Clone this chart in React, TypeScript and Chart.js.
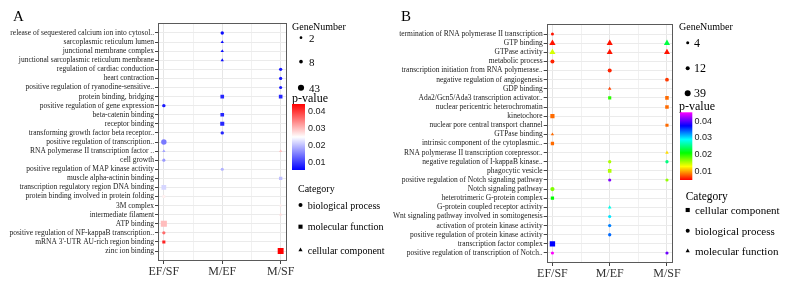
import React, { useEffect, useRef } from "react";
import { Chart, registerables } from "chart.js";

Chart.register(...registerables);

type Cat = "BP" | "MF" | "CC";
// [term row, comparison column, gene number, p-value, GO category]
type Pt = [number, number, number, number, Cat];

const comparisons = ["EF/SF", "M/EF", "M/SF"];

// ---- Panel A ----
const termsA = [
  "release of sequestered calcium ion into cytosol..",
  "sarcoplasmic reticulum lumen",
  "junctional membrane complex",
  "junctional sarcoplasmic reticulum membrane",
  "regulation of cardiac conduction",
  "heart contraction",
  "positive regulation of ryanodine-sensitive..",
  "protein binding, bridging",
  "positive regulation of gene expression",
  "beta-catenin binding",
  "receptor binding",
  "transforming growth factor beta receptor..",
  "positive regulation of transcription..",
  "RNA polymerase II transcription factor ..",
  "cell growth",
  "positive regulation of MAP kinase activity",
  "muscle alpha-actinin binding",
  "transcription regulatory region DNA binding",
  "protein binding involved in protein folding",
  "3M complex",
  "intermediate filament",
  "ATP binding",
  "positive regulation of NF-kappaB transcription..",
  "mRNA 3'-UTR AU-rich region binding",
  "zinc ion binding",
];

const pointsA: Pt[] = [
  [0, 1, 6, 0.006, "BP"],
  [1, 1, 4, 0.006, "CC"],
  [2, 1, 4, 0.006, "CC"],
  [3, 1, 4, 0.006, "CC"],
  [4, 2, 5, 0.007, "BP"],
  [5, 2, 5, 0.007, "BP"],
  [6, 2, 4, 0.007, "BP"],
  [7, 1, 8, 0.008, "MF"],
  [7, 2, 8, 0.008, "MF"],
  [8, 0, 6, 0.007, "BP"],
  [9, 1, 8, 0.008, "MF"],
  [10, 1, 12, 0.008, "MF"],
  [11, 1, 6, 0.008, "BP"],
  [12, 0, 30, 0.0144, "BP"],
  [13, 0, 4, 0.0177, "CC"],
  [13, 2, 4, 0.0294, "CC"],
  [14, 0, 4, 0.0168, "BP"],
  [15, 1, 4, 0.0187, "BP"],
  [16, 2, 6, 0.0197, "MF"],
  [17, 0, 20, 0.0214, "MF"],
  [18, 0, 3, 0.0257, "MF"],
  [19, 2, 3, 0.026, "CC"],
  [20, 2, 4, 0.0273, "CC"],
  [21, 0, 43, 0.0296, "MF"],
  [22, 0, 5, 0.0358, "BP"],
  [23, 0, 4, 0.0413, "MF"],
  [24, 2, 40, 0.044, "MF"],
];

const sizeKeysA = [2, 8, 43];
const pRangeA = [0.0051, 0.044];
const categoriesA: Cat[] = ["BP", "MF", "CC"];

// ---- Panel B ----
const termsB = [
  "termination of RNA polymerase II transcription",
  "GTP binding",
  "GTPase activity",
  "metabolic process",
  "transcription initiation from RNA polymerase..",
  "negative regulation of angiogenesis",
  "GDP binding",
  "Ada2/Gcn5/Ada3 transcription activator..",
  "nuclear pericentric heterochromatin",
  "kinetochore",
  "nuclear pore central transport channel",
  "GTPase binding",
  "intrinsic component of the cytoplasmic..",
  "RNA polymerase II transcription corepressor..",
  "negative regulation of I-kappaB kinase..",
  "phagocytic vesicle",
  "positive regulation of Notch signaling pathway",
  "Notch signaling pathway",
  "heterotrimeric G-protein complex",
  "G-protein coupled receptor activity",
  "Wnt signaling pathway involved in somitogenesis",
  "activation of protein kinase activity",
  "positive regulation of protein kinase activity",
  "transcription factor complex",
  "positive regulation of transcription of Notch..",
];

const pointsB: Pt[] = [
  [0, 0, 4, 0.005, "BP"],
  [1, 0, 39, 0.005, "MF"],
  [1, 1, 36, 0.005, "MF"],
  [1, 2, 36, 0.0227, "MF"],
  [2, 0, 36, 0.0139, "MF"],
  [2, 1, 34, 0.005, "MF"],
  [2, 2, 34, 0.005, "MF"],
  [3, 0, 12, 0.0055, "BP"],
  [4, 1, 12, 0.0055, "BP"],
  [5, 2, 10, 0.0062, "BP"],
  [6, 1, 6, 0.0065, "MF"],
  [7, 1, 5, 0.0193, "CC"],
  [7, 2, 8, 0.0078, "CC"],
  [8, 2, 8, 0.0078, "CC"],
  [9, 0, 14, 0.0078, "CC"],
  [10, 2, 5, 0.0078, "CC"],
  [11, 0, 5, 0.0078, "MF"],
  [12, 0, 6, 0.0078, "CC"],
  [13, 2, 6, 0.0114, "MF"],
  [14, 1, 6, 0.0152, "BP"],
  [14, 2, 6, 0.0247, "BP"],
  [15, 1, 8, 0.015, "CC"],
  [16, 1, 5, 0.041, "BP"],
  [16, 2, 5, 0.0159, "BP"],
  [17, 0, 14, 0.0166, "BP"],
  [18, 0, 6, 0.0206, "CC"],
  [19, 1, 7, 0.0281, "MF"],
  [20, 1, 5, 0.0296, "BP"],
  [21, 1, 6, 0.0328, "BP"],
  [22, 1, 6, 0.0335, "BP"],
  [23, 0, 30, 0.0369, "CC"],
  [24, 0, 5, 0.045, "BP"],
  [24, 2, 5, 0.0403, "BP"],
];

const sizeKeysB = [4, 12, 39];
const pRangeB = [0.0044, 0.045];
const categoriesB: Cat[] = ["CC", "BP", "MF"];

const pTicks = [0.04, 0.03, 0.02, 0.01];

const categoryNames: Record<Cat, string> = {
  BP: "biological process",
  MF: "molecular function",
  CC: "cellular component",
};

type Shape = "circle" | "rect" | "triangle";
const shapesA: Record<Cat, Shape> = { BP: "circle", MF: "rect", CC: "triangle" };
const shapesB: Record<Cat, Shape> = { CC: "rect", BP: "circle", MF: "triangle" };

const SERIF = "'Liberation Serif', 'Times New Roman', serif";
const SANS = "'Liberation Sans', Arial, sans-serif";

const clamp01 = (v: number) => Math.max(0, Math.min(1, v));

// blue -> white -> red
function colorA(p: number) {
  const t = clamp01((p - pRangeA[0]) / (pRangeA[1] - pRangeA[0]));
  if (t < 0.5) {
    const s = t / 0.5;
    const c = Math.round(255 * s);
    return `rgb(${c},${c},255)`;
  }
  const s = (t - 0.5) / 0.5;
  const c = Math.round(255 * (1 - s));
  return `rgb(255,${c},${c})`;
}

// rainbow: red (low) -> magenta (high)
function colorB(p: number) {
  const t = clamp01((p - pRangeB[0]) / (pRangeB[1] - pRangeB[0]));
  return `hsl(${(t * 300).toFixed(1)},100%,50%)`;
}

const radiusA = (n: number) => 0.9 + 0.33 * Math.sqrt(n);
const radiusB = (n: number) => 0.8 + 0.35 * Math.sqrt(n);
const shapeScale: Record<Shape, number> = { circle: 1, rect: 1.4, triangle: 1.22 };

interface PanelCfg {
  terms: string[];
  points: Pt[];
  shapes: Record<Cat, Shape>;
  color: (p: number) => string;
  radius: (n: number) => number;
  yAxisW: number;
  xAxisH: number;
  padTop: number;
  padRight: number;
}

const panelBorder = {
  id: "panelBorder",
  afterDatasetsDraw(chart: any) {
    const { ctx, chartArea } = chart;
    const { left, top, right, bottom } = chartArea;
    ctx.save();
    ctx.strokeStyle = "#5a5a5a";
    ctx.lineWidth = 1;
    ctx.strokeRect(Math.round(left) + 0.5, Math.round(top) + 0.5, Math.round(right - left) - 1, Math.round(bottom - top) - 1);
    ctx.restore();
  },
};

function buildPanel(canvas: HTMLCanvasElement, cfg: PanelCfg) {
  const data = cfg.points.map(([row, col, n, p, cat]) => ({ x: col, y: row, n, p, cat }));
  const last = cfg.terms.length - 1;
  return new Chart(canvas, {
    type: "scatter",
    data: {
      datasets: [
        {
          data: data as any,
          pointStyle: (ctx: any) => cfg.shapes[(ctx.raw as any).cat as Cat],
          pointRadius: (ctx: any) => {
            const r = ctx.raw as any;
            return cfg.radius(r.n) * shapeScale[cfg.shapes[r.cat as Cat]];
          },
          backgroundColor: (ctx: any) => cfg.color((ctx.raw as any).p),
          borderWidth: 0,
        } as any,
      ],
    },
    options: {
      responsive: false,
      animation: false,
      layout: { padding: { left: 0, top: cfg.padTop, right: cfg.padRight, bottom: 0 } },
      plugins: { legend: { display: false }, tooltip: { enabled: false } },
      scales: {
        x: {
          type: "linear",
          min: -0.1,
          max: 2.1,
          afterBuildTicks: (s: any) => {
            s.ticks = [0, 0.5, 1, 1.5, 2].map((v) => ({ value: v }));
          },
          afterFit: (s: any) => {
            s.height = cfg.xAxisH;
          },
          ticks: {
            autoSkip: false,
            maxRotation: 0,
            padding: 1,
            color: "#333",
            font: { family: SERIF, size: 12 },
            callback: (v: any) => (Number.isInteger(v) ? comparisons[v] : ""),
          },
          grid: {
            color: (ctx: any) => (ctx.tick && Number.isInteger(ctx.tick.value) ? "#e6e6e6" : "#f1f1f1"),
            tickColor: (ctx: any) => (ctx.tick && Number.isInteger(ctx.tick.value) ? "#444" : "rgba(0,0,0,0)"),
            tickLength: 3,
          },
          border: { display: false },
        },
        y: {
          type: "linear",
          reverse: true,
          min: -1.1,
          max: last + 1.1,
          afterBuildTicks: (s: any) => {
            s.ticks = cfg.terms.map((_, i) => ({ value: i }));
          },
          afterFit: (s: any) => {
            s.width = cfg.yAxisW;
          },
          ticks: {
            autoSkip: false,
            padding: 1,
            color: "#1a1a1a",
            font: { family: SERIF, size: 7.5 },
            callback: (_v: any, i: number) => cfg.terms[i],
          },
          grid: { color: "#ebebeb", tickColor: "#444", tickLength: 3 },
          border: { display: false },
        },
      },
    } as any,
    plugins: [panelBorder],
  });
}

function Marker({ shape, x, y, r, fill }: { shape: Shape; x: number; y: number; r: number; fill: string }) {
  if (shape === "circle") return <circle cx={x} cy={y} r={r} fill={fill} />;
  if (shape === "rect") {
    const h = r * Math.SQRT1_2;
    return <rect x={x - h} y={y - h} width={2 * h} height={2 * h} fill={fill} />;
  }
  const pts = [0, 1, 2]
    .map((k) => {
      const a = (k * 2 * Math.PI) / 3;
      return `${(x + Math.sin(a) * r).toFixed(2)},${(y - Math.cos(a) * r).toFixed(2)}`;
    })
    .join(" ");
  return <polygon points={pts} fill={fill} />;
}

interface LegendCfg {
  id: string;
  titleX: number;
  titleY: number;
  sizeKeys: number[];
  radius: (n: number) => number;
  sizeDotX: number;
  sizeTextX: number;
  sizeY: number[];
  sizeFont: number;
  pTitleX: number;
  pTitleY: number;
  barX: number;
  barY: number;
  barW: number;
  barH: number;
  barLabelX: number;
  pRange: number[];
  stops: [number, string][];
  catTitleX: number;
  catTitleY: number;
  catTitleFont: number;
  categories: Cat[];
  shapes: Record<Cat, Shape>;
  catMarkX: number;
  catTextX: number;
  catY: number[];
  catFont: number;
}

const legendMarkR: Record<Shape, number> = { circle: 2, rect: 2.9, triangle: 2.4 };

function Legend({ c }: { c: LegendCfg }) {
  const barYOf = (p: number) => c.barY + c.barH - ((p - c.pRange[0]) / (c.pRange[1] - c.pRange[0])) * c.barH;
  return (
    <g>
      <defs>
        <linearGradient id={c.id} x1="0" y1="0" x2="0" y2="1">
          {c.stops.map(([o, col], i) => (
            <stop key={i} offset={o} stopColor={col} />
          ))}
        </linearGradient>
      </defs>
      <text x={c.titleX} y={c.titleY} fontSize={10} fontFamily={SERIF} dominantBaseline="central" fill="#000">
        GeneNumber
      </text>
      {c.sizeKeys.map((k, i) => (
        <g key={k}>
          <circle cx={c.sizeDotX} cy={c.sizeY[i]} r={c.radius(k)} fill="#000" />
          <text x={c.sizeTextX} y={c.sizeY[i]} fontSize={c.sizeFont} fontFamily={SERIF} dominantBaseline="central" fill="#000">
            {k}
          </text>
        </g>
      ))}
      <text x={c.pTitleX} y={c.pTitleY} fontSize={12} fontFamily={SERIF} dominantBaseline="central" fill="#000">
        p-value
      </text>
      <rect x={c.barX} y={c.barY} width={c.barW} height={c.barH} fill={`url(#${c.id})`} />
      {pTicks.map((p) => (
        <text key={p} x={c.barLabelX} y={barYOf(p)} fontSize={9} fontFamily={SANS} dominantBaseline="central" fill="#222">
          {p.toFixed(2)}
        </text>
      ))}
      <text x={c.catTitleX} y={c.catTitleY} fontSize={c.catTitleFont} fontFamily={SERIF} dominantBaseline="central" fill="#000">
        Category
      </text>
      {c.categories.map((cat, i) => (
        <g key={cat}>
          <Marker shape={c.shapes[cat]} x={c.catMarkX} y={c.catY[i]} r={legendMarkR[c.shapes[cat]]} fill="#000" />
          <text x={c.catTextX} y={c.catY[i]} fontSize={c.catFont} fontFamily={SERIF} dominantBaseline="central" fill="#000">
            {categoryNames[cat]}
          </text>
        </g>
      ))}
    </g>
  );
}

const legendA: LegendCfg = {
  id: "gradA",
  titleX: 292,
  titleY: 26,
  sizeKeys: sizeKeysA,
  radius: radiusA,
  sizeDotX: 301,
  sizeTextX: 309,
  sizeY: [37.7, 61.7, 87.7],
  sizeFont: 11,
  pTitleX: 292,
  pTitleY: 98,
  barX: 292,
  barY: 104,
  barW: 13,
  barH: 66,
  barLabelX: 308,
  pRange: pRangeA,
  stops: [
    [0, "#ff0000"],
    [0.5, "#ffffff"],
    [1, "#0000ff"],
  ],
  catTitleX: 298,
  catTitleY: 188,
  catTitleFont: 10,
  categories: categoriesA,
  shapes: shapesA,
  catMarkX: 300.5,
  catTextX: 307.7,
  catY: [205, 226.7, 250],
  catFont: 10,
};

const legendB: LegendCfg = {
  id: "gradB",
  titleX: 679,
  titleY: 26,
  sizeKeys: sizeKeysB,
  radius: radiusB,
  sizeDotX: 687.7,
  sizeTextX: 694,
  sizeY: [42.7, 68.3, 93.3],
  sizeFont: 12,
  pTitleX: 679,
  pTitleY: 106,
  barX: 680,
  barY: 112.3,
  barW: 12.3,
  barH: 67.7,
  barLabelX: 694.5,
  pRange: pRangeB,
  stops: [0, 1, 2, 3, 4, 5].map((k) => [k / 5, `hsl(${300 - k * 60},100%,50%)`] as [number, string]),
  catTitleX: 685.7,
  catTitleY: 196,
  catTitleFont: 11.5,
  categories: categoriesB,
  shapes: shapesB,
  catMarkX: 687.7,
  catTextX: 695,
  catY: [210, 230.7, 251],
  catFont: 11,
};

const panelA: PanelCfg = {
  terms: termsA,
  points: pointsA,
  shapes: shapesA,
  color: colorA,
  radius: radiusA,
  yAxisW: 158,
  xAxisH: 25,
  padTop: 23,
  padRight: 13.5,
};

const panelB: PanelCfg = {
  terms: termsB,
  points: pointsB,
  shapes: shapesB,
  color: colorB,
  radius: radiusB,
  yAxisW: 186.7,
  xAxisH: 23,
  padTop: 24,
  padRight: 27.3,
};

export default function App() {
  const refA = useRef<HTMLCanvasElement>(null);
  const refB = useRef<HTMLCanvasElement>(null);

  useEffect(() => {
    const a = buildPanel(refA.current!, panelA);
    const b = buildPanel(refB.current!, panelB);
    return () => {
      a.destroy();
      b.destroy();
    };
  }, []);

  return (
    <div style={{ position: "fixed", left: 0, top: 0, width: 792, height: 286, background: "#fff", overflow: "hidden" }}>
      <canvas ref={refA} width={300} height={286} style={{ position: "absolute", left: 0, top: 0 }} />
      <canvas ref={refB} width={340} height={286} style={{ position: "absolute", left: 360, top: 0 }} />
      <svg width={792} height={286} style={{ position: "absolute", left: 0, top: 0, pointerEvents: "none" }}>
        <text x={13} y={20.5} fontSize={15} fontFamily={SERIF} fill="#000">
          A
        </text>
        <text x={401} y={20.5} fontSize={15} fontFamily={SERIF} fill="#000">
          B
        </text>
        <Legend c={legendA} />
        <Legend c={legendB} />
      </svg>
    </div>
  );
}
